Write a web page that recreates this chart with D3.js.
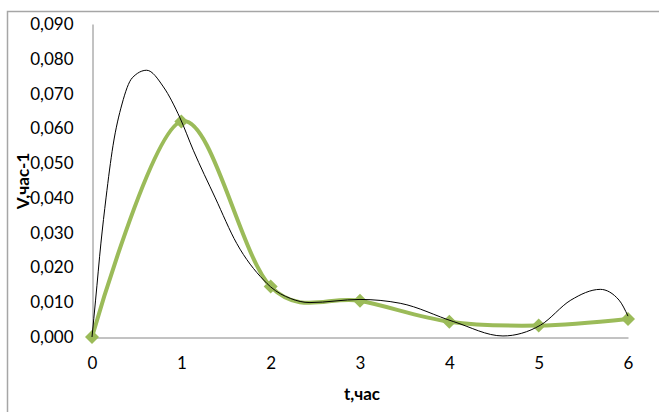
<!DOCTYPE html>
<html>
<head>
<meta charset="utf-8">
<script src="https://cdn.jsdelivr.net/npm/d3@7"></script>
<style>
  body { margin: 0; background: #fff; }
  svg { display: block; }
</style>
</head>
<body>
<script>
// measured series (green line with markers), t in hours
var tMeasured = [0, 1, 2, 3, 4, 5, 6];
var vMeasured = [0, 0.062, 0.0145, 0.0104, 0.0044, 0.0033, 0.0052];

// thin black curve
var tModel = [0, 0.04, 0.1, 0.157, 0.235, 0.336, 0.45, 0.612, 0.8, 0.985, 1.134, 1.38, 1.62, 1.92, 2, 2.22, 2.44, 3, 3.45, 4.05, 4.6, 5.02, 5.36, 5.69, 5.9, 6];
var vModel = [0, 0.0106, 0.027, 0.040, 0.055, 0.067, 0.0745, 0.0767, 0.0719, 0.063, 0.0537, 0.040, 0.0269, 0.0164, 0.0144, 0.0111, 0.0099, 0.0108, 0.0097, 0.0044, 0.0003, 0.0034, 0.0106, 0.0137, 0.0106, 0.006];

var xTicks = [0, 1, 2, 3, 4, 5, 6];
var yTicks = [0, 0.01, 0.02, 0.03, 0.04, 0.05, 0.06, 0.07, 0.08, 0.09];

var width = 659, height = 412;
var svg = d3.select("body").append("svg").attr("width", width).attr("height", height);

// chart frame (cut off at right and bottom as in the picture)
svg.append("path")
    .attr("d", "M7.5," + height + "V11.5H" + width)
    .attr("fill", "none")
    .attr("stroke", "#a6a6a6")
    .attr("stroke-width", 1.5);

var x = d3.scaleLinear().domain([0, 6]).range([92, 628]);
var y = d3.scaleLinear().domain([0, 0.09]).range([337, 24]);

var fmt = function(d){ return d3.format(".3f")(d).replace(".", ","); };

// y axis
var gy = svg.append("g").attr("transform", "translate(92.5,0)")
    .call(d3.axisLeft(y).tickValues(yTicks).tickSize(0).tickPadding(19).tickFormat(fmt));
gy.select(".domain").attr("stroke", "#868686");
gy.selectAll("text").attr("font-family", "Lato, sans-serif").attr("font-size", 17).attr("fill", "#000");

// x axis
var gx = svg.append("g").attr("transform", "translate(0,337.5)")
    .call(d3.axisBottom(x).tickValues(xTicks).tickSize(0).tickPadding(19).tickFormat(d3.format("d")));
gx.select(".domain").attr("stroke", "#868686");
gx.selectAll("text").attr("font-family", "Lato, sans-serif").attr("font-size", 17).attr("fill", "#000");

// axis titles
svg.append("text")
    .attr("x", 362).attr("y", 400)
    .attr("text-anchor", "middle")
    .attr("font-family", "Lato, sans-serif").attr("font-size", 17).attr("font-weight", "bold")
    .text("t,час");

svg.append("text")
    .attr("transform", "translate(29,181) rotate(-90)")
    .attr("text-anchor", "middle")
    .attr("font-family", "Lato, sans-serif").attr("font-size", 17).attr("font-weight", "bold")
    .text("V,час-1");

var lineOf = function(curve){
    return d3.line()
        .x(function(d){ return x(d[0]); })
        .y(function(d){ return y(d[1]); })
        .curve(curve);
};

var measured = tMeasured.map(function(t, i){ return [t, vMeasured[i]]; });
var model = tModel.map(function(t, i){ return [t, vModel[i]]; });

svg.append("path").attr("d", lineOf(d3.curveCatmullRom.alpha(0))(measured))
    .attr("fill", "none")
    .attr("stroke", "#9bbb59")
    .attr("stroke-width", 4);

svg.selectAll(".marker").data(measured).enter().append("path")
    .attr("class", "marker")
    .attr("transform", function(d){ return "translate(" + x(d[0]) + "," + y(d[1]) + ")"; })
    .attr("d", "M0,-7L7,0L0,7L-7,0Z")
    .attr("fill", "#9bbb59");

svg.append("path").attr("d", lineOf(d3.curveMonotoneX)(model))
    .attr("fill", "none")
    .attr("stroke", "#000")
    .attr("stroke-width", 1);
</script>
</body>
</html>
